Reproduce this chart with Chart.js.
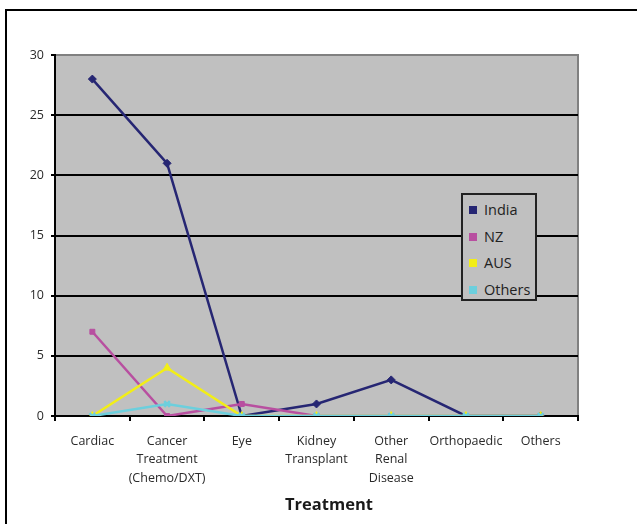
<!DOCTYPE html>
<html>
<head>
<meta charset="utf-8">
<script src="https://cdn.jsdelivr.net/npm/chart.js@4/dist/chart.umd.min.js"></script>
<style>
  html, body { margin: 0; padding: 0; background: #fff; overflow: hidden; }
  #frame {
    position: absolute; left: 5px; top: 9px; width: 700px; height: 600px;
    border-left: 2px solid #000; border-top: 2px solid #000;
  }
  #wrap { position: absolute; left: 0; top: 0; width: 637px; height: 524px; }
  #legend {
    position: absolute; left: 461px; top: 193px; width: 72px; height: 104px;
    border: 2px solid #222; background: #c0c0c0;
    font-family: "Open Sans", sans-serif; font-size: 14.5px; color: #222;
  }
  #legend div { position: absolute; left: 6px; height: 20px; line-height: 20px; white-space: nowrap; }
  #legend span { display: inline-block; width: 8px; height: 8px; margin-right: 7px; vertical-align: 1px; }
</style>
</head>
<body>
<div id="frame"></div>
<div id="wrap"><canvas id="grafico" width="637" height="524"></canvas></div>
<div id="legend"></div>
<script>
// categorias e valores
const categories = ['Cardiac', ['Cancer', 'Treatment', '(Chemo/DXT)'], 'Eye', ['Kidney', 'Transplant'],
                    ['Other', 'Renal', 'Disease'], 'Orthopaedic', 'Others'];
const india = [28, 21, 0, 1, 3, 0, 0];
const nz = [7, 0, 1, 0, 0, 0, 0];
const aus = [0, 4, 0, 0, 0, 0, 0];
const others = [0, 1, 0, 0, 0, 0, 0];
const yTicks = [0, 5, 10, 15, 20, 25, 30];

const font = '"Open Sans", sans-serif';

// fundo cinza da área do gráfico + título do eixo
const plotBg = {
    id: 'plotBg',
    beforeDraw(chart) {
        const { ctx, chartArea: a } = chart;
        ctx.save();
        ctx.fillStyle = '#c0c0c0';
        ctx.fillRect(a.left, a.top, a.right - a.left, a.bottom - a.top);
        ctx.strokeStyle = '#808080';
        ctx.lineWidth = 2;
        ctx.beginPath();
        ctx.moveTo(a.left, a.top);
        ctx.lineTo(a.right, a.top);
        ctx.lineTo(a.right, a.bottom);
        ctx.stroke();
        ctx.restore();
    },
    afterDraw(chart) {
        const ctx = chart.ctx;
        ctx.save();
        ctx.font = 'bold 16.5px ' + font;
        ctx.fillStyle = '#1a1a1a';
        ctx.textAlign = 'center';
        ctx.textBaseline = 'middle';
        ctx.fillText('Treatment', 329, 505);
        ctx.restore();
    }
};

// legenda em HTML
const htmlLegend = {
    id: 'htmlLegend',
    afterUpdate(chart) {
        const box = document.getElementById('legend');
        box.innerHTML = '';
        const items = chart.options.plugins.legend.labels.generateLabels(chart);
        items.sort((a, b) => a.datasetIndex - b.datasetIndex);
        items.forEach((item, i) => {
            const row = document.createElement('div');
            row.style.top = (5 + i * 26.5) + 'px';
            const sw = document.createElement('span');
            sw.style.background = item.fillStyle;
            row.appendChild(sw);
            row.appendChild(document.createTextNode(item.text));
            box.appendChild(row);
        });
    }
};

const serie = (label, data, color, style, radius, order) => ({
    label, data, order,
    borderColor: color,
    backgroundColor: color,
    borderWidth: 2.5,
    pointStyle: style,
    pointRadius: radius,
    pointBorderWidth: style === 'crossRot' ? 2.5 : 1,
    pointBorderColor: color,
    pointBackgroundColor: color,
    tension: 0
});

new Chart(document.getElementById('grafico'), {
    type: 'line',
    data: {
        labels: categories,
        datasets: [
            serie('India', india, '#262673', 'rectRot', 4, 4),
            serie('NZ', nz, '#b84fa0', 'rect', 3.5, 3),
            serie('AUS', aus, '#f2ee16', 'triangle', 4.5, 2),
            serie('Others', others, '#6ccfdd', 'crossRot', 4, 1)
        ]
    },
    options: {
        responsive: false,
        animation: false,
        layout: { padding: { top: 55, right: 59, left: 0, bottom: 0 } },
        plugins: {
            legend: { display: false },
            tooltip: { enabled: false }
        },
        scales: {
            x: {
                offset: true,
                grid: { offset: true, drawOnChartArea: false, tickLength: 5, color: '#000', lineWidth: 2 },
                border: { color: '#000', width: 2 },
                ticks: {
                    padding: 11, maxRotation: 0, autoSkip: false, color: '#2a2a2a',
                    font: { family: font, size: 12.5, lineHeight: 1.48 }
                },
                afterFit(scale) { scale.height = 108; }
            },
            y: {
                min: 0, max: 30,
                afterBuildTicks(scale) { scale.ticks = yTicks.map(v => ({ value: v })); },
                grid: {
                    color: ctx => ctx.tick && ctx.tick.value === 30 ? 'rgba(0,0,0,0)' : '#000',
                    tickColor: '#000', lineWidth: 2, tickLength: 4
                },
                border: { color: '#000', width: 2 },
                ticks: { padding: 7, color: '#2a2a2a', font: { family: font, size: 12.5 } },
                afterFit(scale) { scale.width = 55; }
            }
        }
    },
    plugins: [plotBg, htmlLegend]
});
</script>
</body>
</html>
